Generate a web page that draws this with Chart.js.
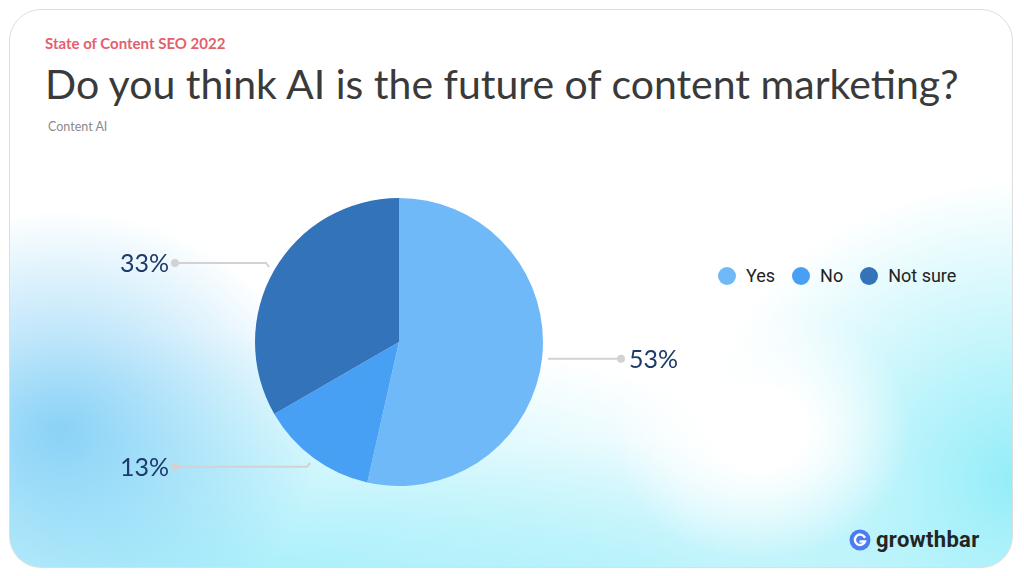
<!DOCTYPE html>
<html>
<head>
<meta charset="utf-8">
<script src="https://cdn.jsdelivr.net/npm/chart.js@4/dist/chart.umd.min.js"></script>
<style>
  html, body { margin:0; padding:0; width:1024px; height:576px; background:#fff; overflow:hidden; }
  .card {
    position:absolute; left:9px; top:9px; width:1002px; height:557px;
    border:1px solid #dedede; border-radius:32px; overflow:hidden;
    background:
      radial-gradient(ellipse 150px 130px at 750px 420px, rgba(255,255,255,1) 30%, rgba(255,255,255,0) 100%),
      radial-gradient(ellipse 260px 220px at 50px 420px, rgba(115,200,245,0.8) 0%, rgba(115,200,245,0) 100%),
      radial-gradient(ellipse 640px 260px at 260px 580px, rgba(160,238,250,0.95) 0%, rgba(160,238,250,0) 100%),
      radial-gradient(ellipse 330px 300px at 1010px 470px, rgba(140,236,248,0.95) 0%, rgba(140,236,248,0) 100%),
      radial-gradient(ellipse 400px 160px at 620px 590px, rgba(170,240,250,0.8) 0%, rgba(170,240,250,0) 100%),
      #fff;
  }
  .kicker { position:absolute; left:45px; top:34px; font:700 15px Lato, sans-serif; color:#e4606d; }
  .title { position:absolute; left:45px; top:59px; font:400 41px Lato, sans-serif; color:#3a3a3a; white-space:nowrap; }
  .source { position:absolute; left:48px; top:119px; font:400 12.5px Lato, sans-serif; color:#8a8a8a; }
  #wrap { position:absolute; left:100px; top:190px; width:600px; height:310px; }
  #legend { position:absolute; left:718px; top:265px; display:flex; align-items:center; font:400 18px Roboto, sans-serif; color:#222; }
  #legend .item { display:flex; align-items:center; margin-right:17px; }
  #legend .dot { width:18px; height:18px; border-radius:50%; margin-right:10px; }
  .logo { position:absolute; left:849px; top:527px; display:flex; align-items:center; font:700 22px Roboto, sans-serif; color:#242424; letter-spacing:0.3px; }
  .logo svg { margin-right:5px; }
</style>
</head>
<body>
<div class="card"></div>
<div class="kicker">State of Content SEO 2022</div>
<div class="title">Do you think AI is the future of content marketing?</div>
<div class="source">Content AI</div>
<div id="wrap"><canvas id="pie"></canvas></div>
<div id="legend"></div>
<div class="logo">
  <svg width="22" height="22" viewBox="0 0 22 22">
    <circle cx="11" cy="11" r="10.5" fill="#4b7cf0"/>
    <path d="M15.5 8 A5.2 5.2 0 1 0 16 12.5 L11.5 12.5" fill="none" stroke="#fff" stroke-width="2.4" stroke-linecap="round"/>
  </svg>
  growthbar
</div>
<script>
// data
var labels = ['Yes', 'No', 'Not sure'];
var values = [53, 13, 33];
var colors = ['#6fb9f8', '#48a0f4', '#3273b9'];

// legend
document.getElementById('legend').innerHTML = labels.map(function(l, i) {
  return '<div class="item"><span class="dot" style="background:' + colors[i] + '"></span>' + l + '</div>';
}).join('');

// leader lines + percentage labels
var leaders = {
  id: 'leaders',
  afterDatasetsDraw: function(chart) {
    var ctx = chart.ctx;
    var meta = chart.getDatasetMeta(0);
    ctx.save();
    meta.data.forEach(function(arc, i) {
      var p = arc.getProps(['x', 'y', 'startAngle', 'endAngle', 'outerRadius'], true);
      var mid = (p.startAngle + p.endAngle) / 2;
      var c = Math.cos(mid), s = Math.sin(mid);
      var x1 = p.x + c * (p.outerRadius + 6), y1 = p.y + s * (p.outerRadius + 6);
      var right = c >= 0;
      var x2 = x1 + (right ? 3 : -3), y2 = y1 + (s < 0 ? -4 : 4);
      if (Math.abs(s) < 0.2) { x2 = x1; y2 = y1; }
      var xe = right ? p.x + p.outerRadius + 78 : p.x - p.outerRadius - 80;
      ctx.strokeStyle = '#d2d2d2';
      ctx.lineWidth = 2;
      ctx.beginPath();
      ctx.moveTo(x1, y1);
      ctx.lineTo(x2, y2);
      ctx.lineTo(xe, y2);
      ctx.stroke();
      ctx.fillStyle = '#d2d2d2';
      ctx.beginPath();
      ctx.arc(xe, y2, 4, 0, Math.PI * 2);
      ctx.fill();
      ctx.fillStyle = '#1f3b6b';
      ctx.font = '400 25px Lato, sans-serif';
      ctx.textBaseline = 'middle';
      ctx.textAlign = right ? 'left' : 'right';
      ctx.fillText(values[i] + '%', right ? xe + 8 : xe - 6, y2 + 1);
    });
    ctx.restore();
  }
};

new Chart(document.getElementById('pie'), {
  type: 'pie',
  data: { labels: labels, datasets: [{ data: values, backgroundColor: colors, borderWidth: 0 }] },
  options: {
    responsive: true, maintainAspectRatio: false, animation: false,
    layout: { padding: { top: 8, bottom: 14, left: 0, right: 2 } },
    plugins: { legend: { display: false }, tooltip: { enabled: false } }
  },
  plugins: [leaders]
});
</script>
</body>
</html>
